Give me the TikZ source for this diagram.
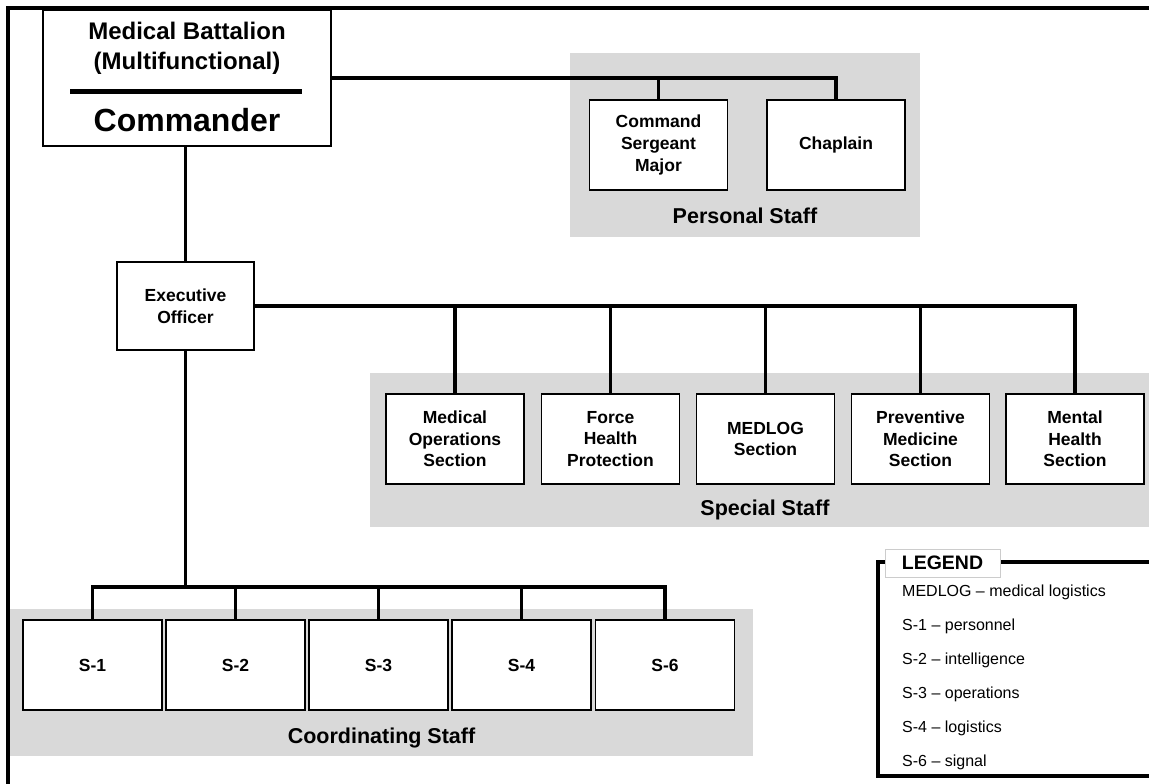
\documentclass[tikz,border=0pt]{standalone}
\usepackage{fontspec}
\setmainfont{Liberation Sans}
\definecolor{grp}{HTML}{D9D9D9}
\definecolor{legline}{HTML}{CCCCCC}
\begin{document}
\begin{tikzpicture}[x=1pt,y=-1pt,
  box/.style={draw, line width=1.7pt, fill=white, minimum width=138pt, minimum height=90pt,
    align=center, inner sep=2pt, font=\bfseries\fontsize{17.5}{21.7}\selectfont},
  sbox/.style={box, minimum width=139pt},
  conn/.style={line width=3.6pt},
  frame/.style={line width=3.2pt},
  grpfill/.style={fill=grp},
  grplabel/.style={anchor=base, inner sep=0pt, font=\bfseries\fontsize{21.5}{24}\selectfont},
  legtext/.style={anchor=base west, inner sep=0pt, font=\fontsize{16}{19}\selectfont},
  titletext/.style={anchor=base, inner sep=0pt}
]
\useasboundingbox (0,0) rectangle (1149,784);

% outer frame
\draw[frame] (1170,8) -- (8,8) -- (8,800);

% group backgrounds
\fill[grpfill] (570,53) rectangle (920,237);
\fill[grpfill] (370,373) rectangle (1170,527);
\fill[grpfill] (10,609) rectangle (753,756);

\node[grplabel] (pslabel) at (745,223) {Personal Staff};
\node[grplabel] (sslabel) at (765,515) {Special Staff};
\node[grplabel] (cslabel) at (381.5,743) {Coordinating Staff};

% commander
\node[draw, line width=1.7pt, fill=white, minimum width=288pt, minimum height=136pt] (cmd) at (187,78) {};
\node[titletext, font=\bfseries\fontsize{24}{28}\selectfont] (cmdt1) at (187,40) {Medical Battalion};
\node[titletext, font=\bfseries\fontsize{24}{28}\selectfont] (cmdt2) at (187,70) {(Multifunctional)};
\draw[line width=5pt] (70,92) -- (302,92);
\node[titletext, font=\bfseries\fontsize{32}{36}\selectfont] (cmdt3) at (187,131.5) {Commander};

% personal staff
\node[box] (csm) at (658.5,145) {Command\\Sergeant\\Major};
\node[box] (chap) at (836,145) {Chaplain};

% executive officer
\node[box, minimum width=137pt, minimum height=88pt] (xo) at (185.5,306) {Executive\\Officer};

% special staff
\node[box] (mo) at (455,439) {Medical\\Operations\\Section};
\node[box] (fhp) at (610.5,439) {Force\\Health\\Protection};
\node[box] (ml) at (765.5,439) {MEDLOG\\Section};
\node[box] (pm) at (920.5,439) {Preventive\\Medicine\\Section};
\node[box] (mh) at (1075,439) {Mental\\Health\\Section};

% coordinating staff
\node[sbox] (s1) at (92.5,665) {S-1};
\node[sbox] (s2) at (235.5,665) {S-2};
\node[sbox] (s3) at (378.5,665) {S-3};
\node[sbox] (s4) at (521.5,665) {S-4};
\node[sbox] (s6) at (665,665) {S-6};

% connectors
\draw[conn] (cmd.east) -| (chap.north);
\draw[conn] (csm.north) -- (csm.north |- cmd.east);
\draw[conn] (cmd.south -| xo.north) -- (xo.north);
\draw[conn] (xo.east) -| (mh.north);
\foreach \n in {mo,fhp,ml,pm} \draw[conn] (\n.north) -- (\n.north |- xo.east);
\coordinate (sbus) at (185.5,587);
\draw[conn] (xo.south) -- (sbus);
\draw[conn] (s1.north) -- (s1.north |- sbus) -- (s6.north |- sbus) -- (s6.north);
\foreach \n in {s2,s3,s4} \draw[conn] (\n.north) -- (\n.north |- sbus);

% legend
\draw[frame] (1170,562) -- (878,562) -- (878,776) -- (1170,776);
\node[draw=legline, line width=0.8pt, fill=white, minimum width=115pt, minimum height=28pt,
  inner sep=0pt, font=\bfseries\fontsize{19.5}{22}\selectfont] (leg) at (942.5,563) {LEGEND};
\node[legtext] (l1) at (902,596) {MEDLOG – medical logistics};
\node[legtext] (l2) at (902,630) {S-1 – personnel};
\node[legtext] (l3) at (902,664) {S-2 – intelligence};
\node[legtext] (l4) at (902,698) {S-3 – operations};
\node[legtext] (l5) at (902,732) {S-4 – logistics};
\node[legtext] (l6) at (902,766) {S-6 – signal};
\end{tikzpicture}
\end{document}
